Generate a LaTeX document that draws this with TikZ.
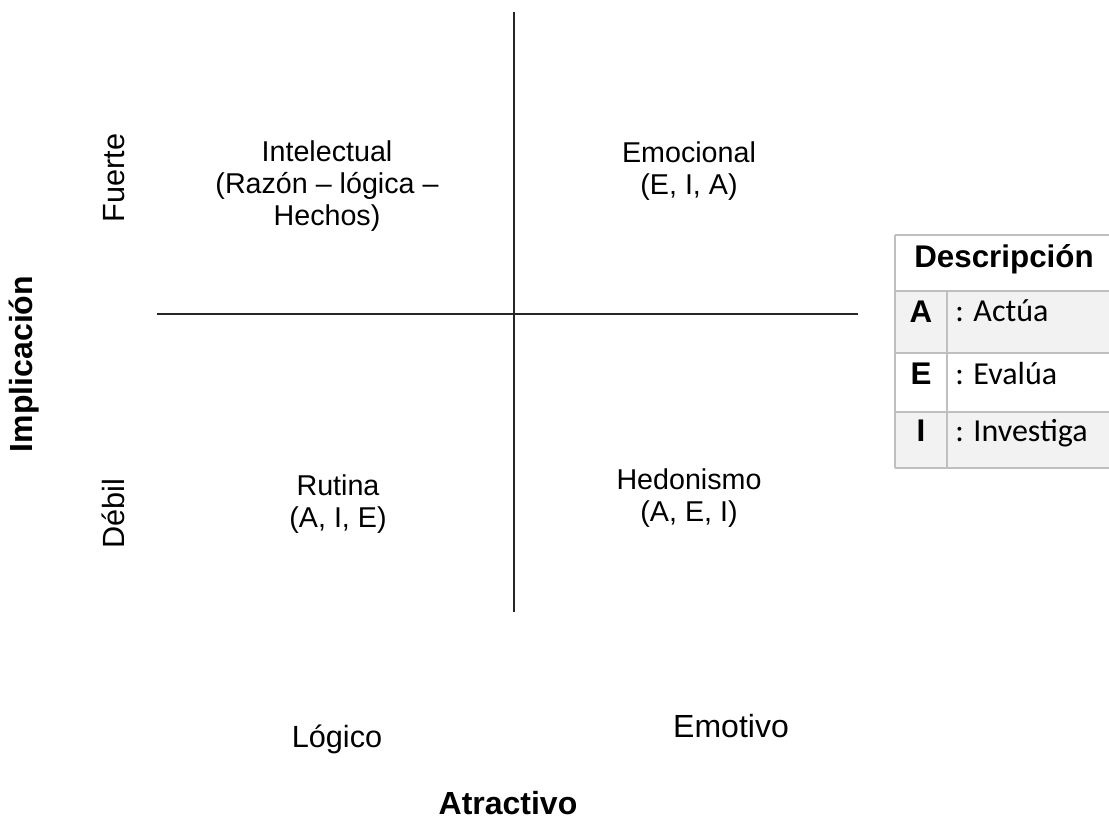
\documentclass[tikz,border=0pt]{standalone}
\usepackage{fontspec}
\setmainfont{Liberation Sans}
\newfontfamily\calibrifont{Carlito}
\definecolor{rulegray}{RGB}{191,191,191}
\definecolor{bandgray}{RGB}{242,242,242}

\begin{document}
\begin{tikzpicture}[x=0.75pt,y=-0.75pt,line cap=butt,
  quadtext/.style={align=center,inner sep=0pt,font=\fontsize{21.5}{24}\selectfont},
  sidetext/.style={rotate=90,inner sep=0pt,font=\fontsize{23}{26}\selectfont},
  poletext/.style={anchor=base,inner sep=0pt,font=\fontsize{23}{26}\selectfont},
  axtitle/.style={inner sep=0pt,font=\fontsize{24}{28}\selectfont\bfseries},
  tkey/.style={anchor=base,inner sep=0pt,font=\fontsize{23.5}{27}\selectfont\bfseries},
  tval/.style={anchor=base west,inner sep=0pt,font=\calibrifont\fontsize{24}{28}\selectfont},
  axisline/.style={black!85,line width=1.3pt},
  tblrule/.style={rulegray,line width=1.5pt}]
\useasboundingbox (0,0) rectangle (1109,821);
% axes
\coordinate (vtop) at (514,12);
\coordinate (vbot) at (514,612);
\coordinate (hleft) at (157,314);
\coordinate (hright) at (858,314);
\draw[axisline] (vtop) -- (vbot);
\draw[axisline] (hleft) -- (hright);
% quadrants
\node[quadtext] (intel) at (327,186) {Intelectual\\(Razón – lógica –\\Hechos)};
\node[quadtext] (emoc) at (689,171) {Emocional\\(E, I, A)};
\node[quadtext] (rutina) at (338,504) {Rutina\\(A, I, E)};
\node[quadtext] (hedon) at (689,498) {Hedonismo\\(A, E, I)};
% axis labels
\node[sidetext] (fuerte) at (114,178) {Fuerte};
\node[sidetext] (debil) at (113,514) {Débil};
\node[axtitle,rotate=90] (implic) at (24,364) {Implicación};
\node[poletext] (logico) at (337,747) {Lógico};
\node[poletext,font=\fontsize{24}{27}\selectfont] (emotivo) at (731,737) {Emotivo};
\node[axtitle,anchor=base] (atract) at (508,814) {Atractivo};
% legend table
\fill[bandgray] (895,291) rectangle (1109,353);
\fill[bandgray] (895,412) rectangle (1109,468);
\foreach \yy in {235,291,353,412,468}
  \draw[tblrule] (895,\yy) -- (1109,\yy);
\draw[tblrule] (895,235) -- (895,468);
\draw[tblrule] (947,291) -- (947,468);
\node[tkey] (tdesc) at (1004,267) {Descripción};
\node[tkey] (ka) at (921,322) {A};
\node[tkey] (ke) at (921,384) {E};
\node[tkey] (ki) at (921,441) {I};
\node[tval] (va) at (955,321) {: Actúa};
\node[tval] (ve) at (955,384) {: Evalúa};
\node[tval] (vi) at (955,441) {: Investiga};
\end{tikzpicture}
\end{document}
